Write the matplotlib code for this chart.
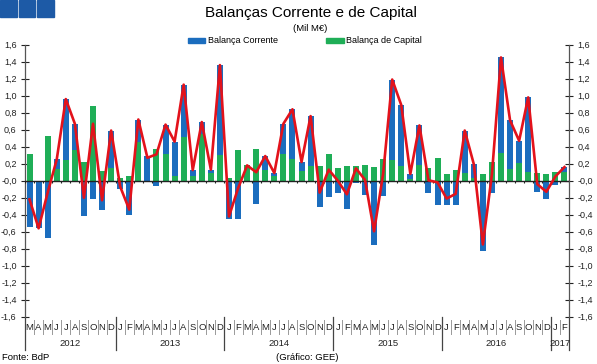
import numpy as np
import matplotlib
matplotlib.use("Agg")
import matplotlib.pyplot as plt
from matplotlib.patches import Rectangle
from matplotlib.lines import Line2D
import matplotlib.transforms as mtransforms

plt.rcParams['font.family'] = ['Liberation Sans', 'DejaVu Sans']

# monthly values, Mar 2012 - Feb 2017 (Mil M€)
corrente = [-0.54, -0.56, -0.67, 0.11, 0.72, 0.31, -0.42, -0.21, -0.35, 0.44,
            -0.10, -0.40, 0.27, 0.29, -0.06, 0.35, 0.41, 0.62, 0.07, 0.14, 0.04, 1.06,
            -0.45, -0.45, 0.00, -0.27, 0.165, 0.04, 0.35, 0.59, 0.10, 0.59, -0.31, -0.19,
            -0.15, -0.33, -0.025, -0.17, -0.76, -0.18, 0.95, 0.72, 0.06, 0.47, -0.14, -0.29,
            -0.29, -0.28, 0.50, 0.16, -0.83, -0.14, 1.12, 0.57, 0.26, 0.88, -0.13, -0.21,
            -0.05, 0.055]
capital = [0.32, 0.0, 0.53, 0.14, 0.24, 0.36, 0.22, 0.88, 0.12, 0.15,
           0.03, 0.06, 0.45, -0.02, 0.37, 0.31, 0.05, 0.51, 0.055, 0.55, 0.09, 0.30,
           0.03, 0.36, 0.18, 0.37, 0.125, 0.05, 0.32, 0.25, 0.12, 0.17, 0.17, 0.32,
           0.15, 0.17, 0.17, 0.18, 0.165, 0.26, 0.24, 0.17, 0.02, 0.18, 0.145, 0.27,
           0.08, 0.125, 0.09, 0.035, 0.08, 0.215, 0.33, 0.14, 0.21, 0.10, 0.09, 0.08,
           0.10, 0.105]
meses = list("MAMJJASOND") + list("JFMAMJJASOND") * 4 + list("JF")
anos = ["2012", "2013", "2014", "2015", "2016", "2017"]
meses_por_ano = [10, 12, 12, 12, 12, 2]

AZUL = '#1b6dbe'
VERDE = '#1fae57'
VERMELHO = '#e3121b'
W, H = 597, 364

corrente = np.array(corrente)
capital = np.array(capital)
total = corrente + capital
x = np.arange(len(corrente))

fig = plt.figure(figsize=(W / 100, H / 100), dpi=100)
ax = fig.add_axes([25 / W, 1 - 316.7 / H, (569 - 25) / W, 272 / H])

# stacked bars: capital first, corrente stacked when same sign
bottom = np.where(np.sign(corrente) == np.sign(capital), capital, 0.0)
ax.bar(x, capital, width=0.66, color=VERDE, zorder=2)
ax.bar(x, corrente, width=0.66, bottom=bottom, color=AZUL, zorder=2)
ax.plot(x, total, color=VERMELHO, lw=1.9, zorder=4)

ax.axhline(0, color='#222222', lw=1.0, zorder=3)
ax.vlines(np.arange(len(x) + 1) - 0.5, -0.03, 0, color='#222222', lw=0.8, zorder=3)

ax.set_xlim(-0.5, len(x) - 0.5)
ax.set_ylim(-1.6, 1.6)
yt = np.round(np.arange(-1.6, 1.61, 0.2), 1)
ax.set_yticks(yt)
ax.set_yticklabels([f"{v:.1f}".replace('.', ',') for v in yt])
ax.tick_params(axis='y', direction='inout', length=6, width=0.8, labelsize=6.5,
               left=True, right=True, labelleft=True, labelright=True, pad=3,
               colors='#222222')
ax.set_xticks([])
for s in ['top', 'bottom']:
    ax.spines[s].set_visible(False)
for s in ['left', 'right']:
    ax.spines[s].set_color('#555555')
    ax.spines[s].set_linewidth(0.9)

# month / year axis drawn below the plot
trans = mtransforms.blended_transform_factory(ax.transData, ax.transAxes)
def ay(px):
    return -(px - 316.7) / 272

for i, m in enumerate(meses):
    ax.text(i, ay(327.5), m, transform=trans, ha='center', va='center',
            fontsize=6.8, color='#222222')
for b in np.arange(len(x) + 1) - 0.5:
    ax.add_line(Line2D([b, b], [ay(320), ay(334)], transform=trans,
                       color='#999999', lw=0.7, clip_on=False))
inicio = -0.5
pos = [inicio]
for n in meses_por_ano:
    inicio += n
    pos.append(inicio)
for b in pos:
    ax.add_line(Line2D([b, b], [ay(317), ay(350)], transform=trans,
                       color='#444444', lw=0.9, clip_on=False))
for a, p0, p1 in zip(anos, pos[:-1], pos[1:]):
    ax.text((p0 + p1) / 2, ay(344), a, transform=trans, ha='center',
            va='center', fontsize=6.8, color='#222222')

# header
for x0 in [0, 18.5, 37]:
    fig.patches.append(Rectangle((x0 / W, 1 - 17 / H), 16.5 / W, 17 / H,
                                 transform=fig.transFigure, color='#1d5aa6'))
fig.text(311 / W, 1 - 13.5 / H, "Balanças Corrente e de Capital",
         ha='center', va='center', fontsize=11)
fig.text(310 / W, 1 - 28.5 / H, "(Mil M€)", ha='center', va='center', fontsize=6.8)
fig.patches.append(Rectangle((188 / W, 1 - 43 / H), 17 / W, 5 / H,
                             transform=fig.transFigure, color=AZUL))
fig.text(208 / W, 1 - 40.5 / H, "Balança Corrente", ha='left', va='center', fontsize=6.5)
fig.patches.append(Rectangle((326 / W, 1 - 43 / H), 18 / W, 5 / H,
                             transform=fig.transFigure, color=VERDE))
fig.text(346 / W, 1 - 40.5 / H, "Balança de Capital", ha='left', va='center', fontsize=6.5)

fig.text(2 / W, 1 - 357.5 / H, "Fonte: BdP", ha='left', va='center', fontsize=6.8)
fig.text(307 / W, 1 - 357.5 / H, "(Gráfico: GEE)", ha='center', va='center', fontsize=6.8)

fig.savefig("out.png", dpi=100)
